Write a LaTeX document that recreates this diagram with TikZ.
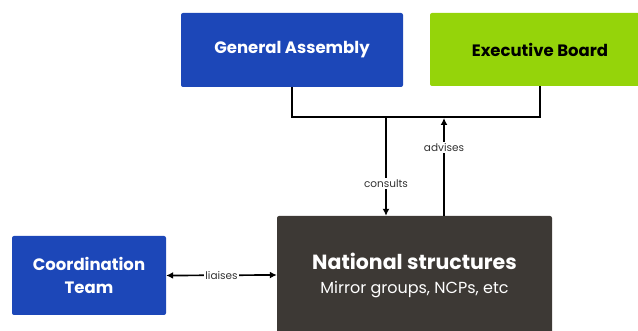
\documentclass[tikz,border=0pt]{standalone}
\usepackage{fontspec}
\setmainfont{Poppins}
\usetikzlibrary{positioning,arrows.meta}

\definecolor{boardblue}{HTML}{1C47B8}
\definecolor{boardgreen}{HTML}{95D40A}
\definecolor{natgrey}{HTML}{3D3935}

\begin{document}
\begin{tikzpicture}[x=1pt, y=-1pt,
		box/.style={rounded corners=2pt, inner sep=0pt, align=center, font=\bfseries\fontsize{16.5}{20}\selectfont},
		bluebox/.style={box, fill=boardblue, text=white},
		link/.style={line width=1.7pt, black},
		tip/.style={-{Latex[length=7pt,width=7pt]}},
		lbl/.style={fill=white, inner sep=1.5pt, font=\fontsize{10.5}{12}\selectfont, text=black!80}]
		\useasboundingbox (0,0) rectangle (638,331);

		\node[bluebox, minimum width=222pt, minimum height=74pt] (GA) at (292,50) {General Assembly};
		\node[box, fill=boardgreen, text=black, minimum width=220pt, minimum height=73pt] (EB) at (540,49.5) {Executive Board};
		\node[box, fill=natgrey, text=white, minimum width=275pt, minimum height=118pt] (NS) at (414.5,275)
			{{\fontsize{20.5}{24}\selectfont National structures}\\[4pt]{\mdseries\fontsize{16}{19}\selectfont Mirror groups, NCPs, etc}};
		\node[bluebox, minimum width=154pt, minimum height=79pt] (CT) at (89,275.5) {Coordination\\[3pt]Team};

		\coordinate (J) at (292,117);
		\coordinate (C) at (386,117);
		\coordinate (A) at (444,117);

		% board junction
		\draw[link] (GA.south) -- (J) -| (EB.south);

		\path[link, tip] (C) edge node[lbl, pos=0.67] {consults} (C |- NS.north);
		\path[link, tip] (A |- NS.north) edge node[lbl, pos=0.7] {advises} ([yshift=-1pt]A);
		\path[link, {Latex[length=7pt,width=7pt]}-{Latex[length=7pt,width=7pt]}] (CT.east) edge node[lbl] {liaises} (NS.west);
	\end{tikzpicture}
\end{document}
